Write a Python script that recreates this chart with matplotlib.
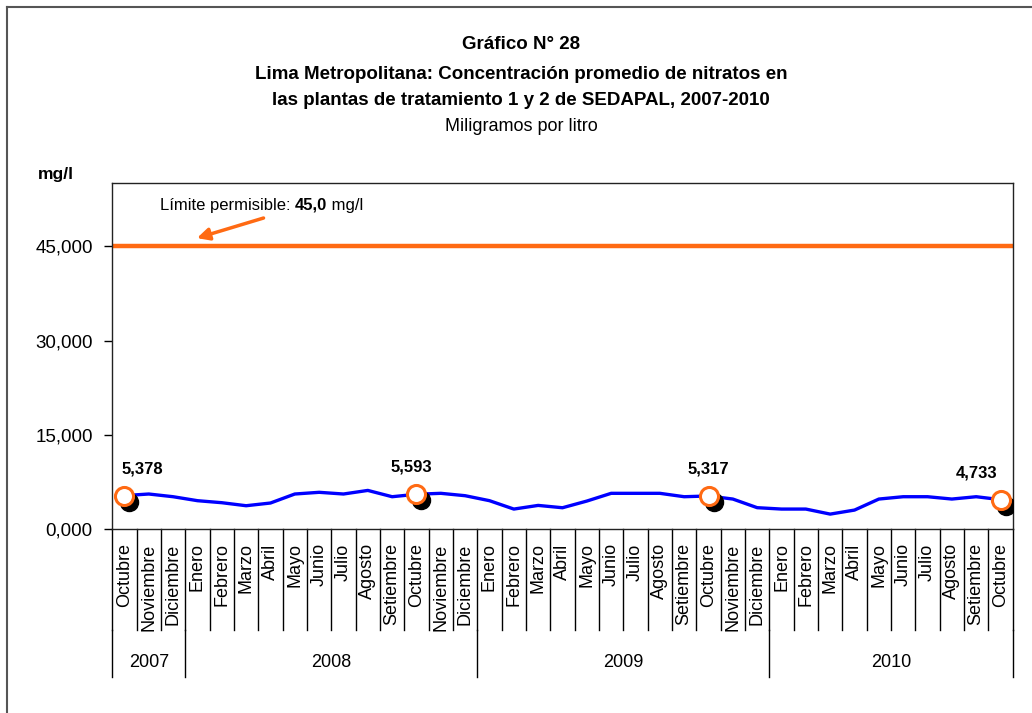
import numpy as np
import matplotlib
matplotlib.use("Agg")
import matplotlib.pyplot as plt
from matplotlib import font_manager
from matplotlib.transforms import offset_copy, blended_transform_factory

# --- data ---
months = ["Octubre", "Noviembre", "Diciembre",
          "Enero", "Febrero", "Marzo", "Abril", "Mayo", "Junio", "Julio", "Agosto",
          "Setiembre", "Octubre", "Noviembre", "Diciembre",
          "Enero", "Febrero", "Marzo", "Abril", "Mayo", "Junio", "Julio", "Agosto",
          "Setiembre", "Octubre", "Noviembre", "Diciembre",
          "Enero", "Febrero", "Marzo", "Abril", "Mayo", "Junio", "Julio", "Agosto",
          "Setiembre", "Octubre"]
years = ["2007", "2008", "2009", "2010"]
months_per_year = [3, 12, 12, 10]
nitratos = [5.378, 5.63, 5.20, 4.57, 4.25, 3.77, 4.20, 5.63, 5.90, 5.63, 6.20, 5.20,
            5.593, 5.74, 5.36, 4.57, 3.24, 3.82, 3.45, 4.51, 5.74, 5.74, 5.74, 5.20,
            5.317, 4.83, 3.46, 3.24, 3.24, 2.44, 3.08, 4.83, 5.20, 5.20, 4.83, 5.20,
            4.733]
marcados = [0, 12, 24, 36]
limite = 45.0
yticks = [0, 15, 30, 45]


def pick_font(names):
    have = {f.name for f in font_manager.fontManager.ttflist}
    for n in names:
        if n in have:
            return n
    return "DejaVu Sans"


narrow = pick_font(["Liberation Sans Narrow", "Arial Narrow", "Liberation Sans"])
sans = pick_font(["Liberation Sans", "Arial"])
plt.rcParams["font.family"] = [sans, "DejaVu Sans"]

fig = plt.figure(figsize=(10.32, 7.13), dpi=100)
ax = fig.add_axes([0.1088, 0.2574, 0.8725, 0.4859])

x = np.arange(len(nitratos))
vals = np.array(nitratos) * 1000

ax.axhline(limite * 1000, color="#ff6a13", lw=3.2, zorder=2)
ax.plot(x, vals, color="#0000ff", lw=2.4, zorder=3)

mx = np.array(marcados)
shadow = offset_copy(ax.transData, fig=fig, x=5, y=-6, units="dots")
ax.plot(mx, vals[mx], "o", ms=13, color="black", transform=shadow, zorder=4)
ax.plot(mx, vals[mx], "o", ms=13, mfc="white", mec="#ff6a13", mew=2.2, zorder=5)

label_dx = [18, -5, 0, -24]
for i, dx in zip(marcados, label_dx):
    ax.annotate(f"{nitratos[i]:.3f}".replace(".", ","), (i, vals[i]),
                textcoords="offset points", xytext=(dx * 0.72, 14),
                ha="center", va="bottom", fontsize=12, fontweight="bold",
                family=narrow)

ax.set_xlim(-0.5, len(nitratos) - 0.5)
ax.set_ylim(0, 55000)
ax.set_yticks([v * 1000 for v in yticks])
ax.set_yticklabels([f"{v},000" for v in yticks], fontsize=13.5, family=narrow)
ax.tick_params(axis="y", direction="out", length=6, width=1, pad=8)
ax.set_xticks([])
for s in ax.spines.values():
    s.set_color("#222222")
    s.set_linewidth(1.0)

# category axis drawn by hand
tr = blended_transform_factory(ax.transData, ax.transAxes)
for k in range(len(months) + 1):
    ax.plot([k - 0.5, k - 0.5], [0, -0.29], color="black", lw=1,
            transform=tr, clip_on=False)
for k, m in enumerate(months):
    ax.text(k, -0.04, m, rotation=90, ha="center", va="top", fontsize=13,
            family=narrow, transform=tr)
edges = np.concatenate([[0], np.cumsum(months_per_year)]) - 0.5
for e in edges:
    ax.plot([e, e], [-0.29, -0.425], color="black", lw=1, transform=tr,
            clip_on=False)
for y, a, b in zip(years, edges[:-1], edges[1:]):
    ax.text((a + b) / 2, -0.385, y, ha="center", va="center", fontsize=13,
            family=narrow, transform=tr)

# titles and notes
fig.text(0.505, 0.937, "Gráfico N° 28", ha="center", va="center",
         fontsize=13.5, fontweight="bold", family=narrow)
fig.text(0.505, 0.895, "Lima Metropolitana: Concentración promedio de nitratos en",
         ha="center", va="center", fontsize=13.5, fontweight="bold", family=narrow)
fig.text(0.505, 0.859, "las plantas de tratamiento 1 y 2 de SEDAPAL, 2007-2010",
         ha="center", va="center", fontsize=13.5, fontweight="bold", family=narrow)
fig.text(0.505, 0.823, "Miligramos por litro", ha="center", va="center",
         fontsize=13, family=narrow)
fig.text(0.037, 0.755, "mg/l", ha="left", va="center", fontsize=12.5,
         fontweight="bold", family=narrow)

t1 = ax.text(0.053, 0.936, "Límite permisible: ", transform=ax.transAxes,
             ha="left", va="center", fontsize=12, family=narrow)
t2 = ax.annotate("45,0", xy=(1, 0.5), xycoords=t1, ha="left", va="center",
                 fontsize=12, fontweight="bold", family=narrow)
ax.annotate(" mg/l", xy=(1, 0.5), xycoords=t2, ha="left", va="center",
            fontsize=12, family=narrow)
ax.annotate("", xy=(0.094, 0.841), xytext=(0.168, 0.899), xycoords="axes fraction",
            arrowprops=dict(arrowstyle="-|>", color="#ff6a13", lw=2.5,
                            mutation_scale=18, shrinkA=0, shrinkB=0))

# outer frame (left and top edges visible)
fig.add_artist(plt.Line2D([0.0068, 0.0068], [0, 0.9905], color="#555555", lw=1.5))
fig.add_artist(plt.Line2D([0.0068, 1], [0.9905, 0.9905], color="#555555", lw=1.5))

fig.savefig("out.png", dpi=100)
